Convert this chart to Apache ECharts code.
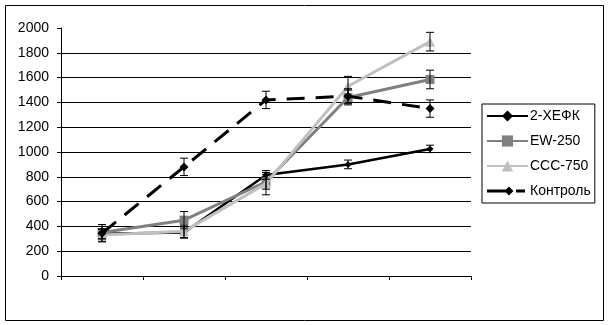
<!DOCTYPE html>
<html>
<head>
<meta charset="utf-8">
<script src="https://cdn.jsdelivr.net/npm/echarts@6/dist/echarts.min.js"></script>
<style>html,body{margin:0;padding:0;background:#fff;}#c{width:609px;height:325px;}</style>
</head>
<body>
<div id="c"></div>
<script>
var categories = ['1', '2', '3', '4', '5'];
var names = ['2-ХЕФК', 'EW-250', 'CCC-750', 'Контроль'];
var hefk = [340, 350, 815, 900, 1025];
var hefkErr = [40, 45, 35, 35, 30];
var ew = [350, 450, 760, 1440, 1585];
var ewErr = [50, 70, 60, 60, 75];
var ccc = [330, 360, 745, 1530, 1890];
var cccErr = [50, 50, 90, 80, 75];
var ctrl = [345, 880, 1420, 1450, 1350];
var ctrlErr = [70, 70, 70, 60, 70];

var FONT = 'Liberation Sans, Arial, sans-serif';

function errData(vals, errs) {
  return vals.map(function (v, i) { return [i, v - errs[i], v + errs[i]]; });
}
function errSeries(vals, errs, z) {
  return {
    type: 'custom',
    z: z,
    silent: true,
    data: errData(vals, errs),
    renderItem: function (params, api) {
      var x = api.value(0);
      var lo = api.coord([x, api.value(1)]);
      var hi = api.coord([x, api.value(2)]);
      var w = 4;
      var st = { stroke: '#000', lineWidth: 1 };
      return {
        type: 'group',
        children: [
          { type: 'line', shape: { x1: lo[0], y1: lo[1], x2: hi[0], y2: hi[1] }, style: st },
          { type: 'line', shape: { x1: lo[0] - w, y1: lo[1], x2: lo[0] + w, y2: lo[1] }, style: st },
          { type: 'line', shape: { x1: hi[0] - w, y1: hi[1], x2: hi[0] + w, y2: hi[1] }, style: st }
        ]
      };
    }
  };
}

var dashedIcon = 'path://M0 0 L0.01 0 L0 0.01 Z M41 14 L40.99 14 L41 13.99 Z ' +
  'M0 5.5 H20 V8.5 H0 Z M22 2.5 L26.5 7 L22 11.5 L17.5 7 Z M29 5.5 H38 V8.5 H29 Z';

var chart = echarts.init(document.getElementById('c'), null, { renderer: 'canvas' });
chart.setOption({
  animation: false,
  backgroundColor: '#fff',
  textStyle: { fontFamily: FONT },
  graphic: [{
    type: 'rect',
    shape: { x: 5.5, y: 5.5, width: 598, height: 315 },
    style: { fill: 'none', stroke: '#000', lineWidth: 1 },
    z: -1
  }],
  grid: { left: 61, right: 138, top: 28, bottom: 49 },
  legend: {
    data: [
      { name: names[0] },
      { name: names[1] },
      { name: names[2] },
      { name: names[3], icon: dashedIcon }
    ],
    orient: 'vertical',
    left: 482,
    top: 104,
    padding: [5, 4, 5, 4],
    itemWidth: 41,
    itemHeight: 14,
    itemGap: 11,
    borderColor: '#000',
    borderWidth: 1,
    textStyle: { fontFamily: FONT, fontSize: 14, color: '#000', padding: [0, 0, 0, -3] }
  },
  xAxis: {
    type: 'category',
    data: categories,
    boundaryGap: true,
    axisLine: { lineStyle: { color: '#000', width: 1 } },
    axisTick: { show: true, length: 4, lineStyle: { color: '#000' } },
    axisLabel: { show: false },
    splitLine: { show: false }
  },
  yAxis: {
    type: 'value',
    min: 0,
    max: 2000,
    interval: 200,
    axisLine: { show: true, lineStyle: { color: '#000', width: 1 } },
    axisTick: { show: true, length: 4, lineStyle: { color: '#000' } },
    axisLabel: { fontFamily: FONT, fontSize: 14, color: '#000', margin: 12, formatter: function (v) { return String(v); } },
    splitLine: { show: true, showMaxLine: false, showMinLine: false, lineStyle: { color: '#000', width: 1 } }
  },
  series: [
    {
      name: names[0], type: 'line', data: hefk, z: 3,
      symbol: 'diamond', symbolSize: 7,
      itemStyle: { color: '#000' },
      lineStyle: { color: '#000', width: 2.5 }
    },
    {
      name: names[1], type: 'line', data: ew, z: 4,
      symbol: 'rect', symbolSize: 9,
      itemStyle: { color: '#808080' },
      lineStyle: { color: '#808080', width: 3 }
    },
    {
      name: names[2], type: 'line', data: ccc, z: 5,
      symbol: 'triangle', symbolSize: 10,
      itemStyle: { color: '#c0c0c0' },
      lineStyle: { color: '#c0c0c0', width: 3 }
    },
    {
      name: names[3], type: 'line', data: ctrl, z: 6,
      symbol: 'diamond', symbolSize: 9,
      itemStyle: { color: '#000' },
      lineStyle: { color: '#000', width: 3, type: [18, 11] }
    },
    errSeries(hefk, hefkErr, 7),
    errSeries(ew, ewErr, 7),
    errSeries(ccc, cccErr, 7),
    errSeries(ctrl, ctrlErr, 7)
  ]
});
</script>
</body>
</html>
